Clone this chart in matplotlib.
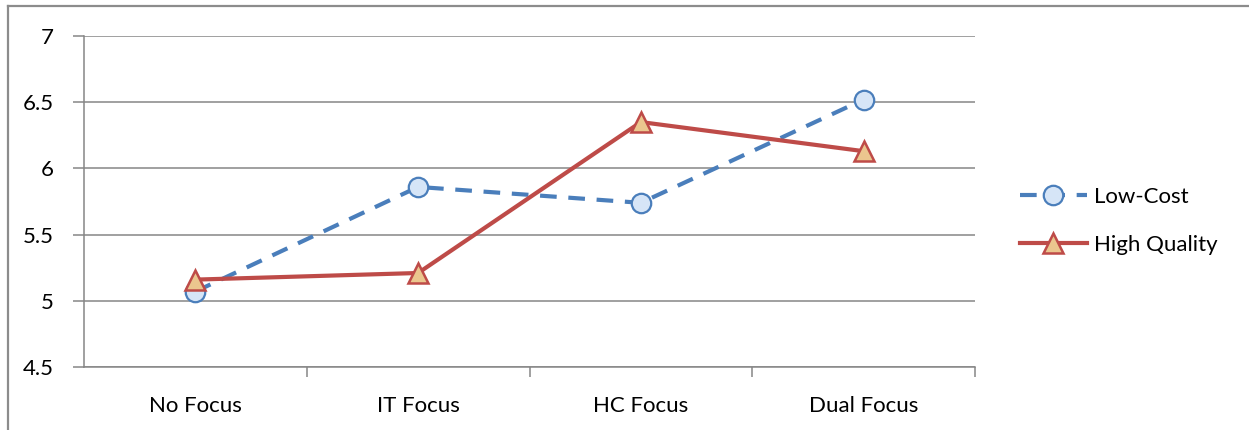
import matplotlib
matplotlib.use("Agg")
import matplotlib.pyplot as plt
from matplotlib.lines import Line2D

categories = ["No Focus", "IT Focus", "HC Focus", "Dual Focus"]
low_cost = [5.07, 5.86, 5.74, 6.52]
high_quality = [5.16, 5.21, 6.35, 6.13]
y_ticks = [4.5, 5, 5.5, 6, 6.5, 7]
y_labels = ["4.5", "5", "5.5", "6", "6.5", "7"]

plt.rcParams['font.family'] = ['Lato', 'DejaVu Sans']

fig = plt.figure(figsize=(12.49, 4.30), dpi=100)
ax = fig.add_axes([84/1249, 1 - 367/430, (975-84)/1249, (367-36)/430])

grid_c = "#868686"
x = list(range(len(categories)))

ax.plot(x, low_cost, color="#4A7EBB", lw=3.0, dashes=(4, 2.8),
        marker="o", markersize=14, markerfacecolor="#D6E5F7",
        markeredgecolor="#4A7EBB", markeredgewidth=1.6, label="Low-Cost", zorder=3)
ax.plot(x, high_quality, color="#BE4B48", lw=3.0,
        marker="^", markersize=15, markerfacecolor="#EBC68E",
        markeredgecolor="#BE4B48", markeredgewidth=1.8, label="High Quality", zorder=4)

ax.set_xlim(-0.5, 3.5)
ax.set_ylim(4.5, 7)
ax.set_yticks(y_ticks)
ax.set_yticklabels(y_labels)
ax.set_xticks(x)
ax.set_xticklabels(categories)
ax.set_xticks([0.5, 1.5, 2.5, 3.5], minor=True)
ax.tick_params(axis='x', which='major', length=0, pad=21, labelsize=16)
ax.tick_params(axis='x', which='minor', length=7, width=1.1, color=grid_c, direction='out')
ax.tick_params(axis='y', length=8, width=1.1, color=grid_c, direction='out', pad=14, labelsize=16)

ax.grid(axis='y', color=grid_c, lw=1.1)
ax.set_axisbelow(True)
for s in ["top", "right"]:
    ax.spines[s].set_visible(False)
for s in ["left", "bottom"]:
    ax.spines[s].set_color(grid_c)
    ax.spines[s].set_linewidth(1.1)

leg = fig.legend(loc="upper left", bbox_to_anchor=(1000/1249, 1 - 167/430),
                 frameon=False, fontsize=16, handlelength=3.0, handletextpad=0.35,
                 labelspacing=1.25)

# outer chart border (top and left edges visible)
fig.add_artist(Line2D([8/1249, 8/1249], [0, 1 - 6/430], transform=fig.transFigure,
                      color="#8C8C8C", lw=1.6))
fig.add_artist(Line2D([8/1249, 1], [1 - 6/430, 1 - 6/430], transform=fig.transFigure,
                      color="#8C8C8C", lw=1.6))

fig.savefig("out.png", dpi=100)
